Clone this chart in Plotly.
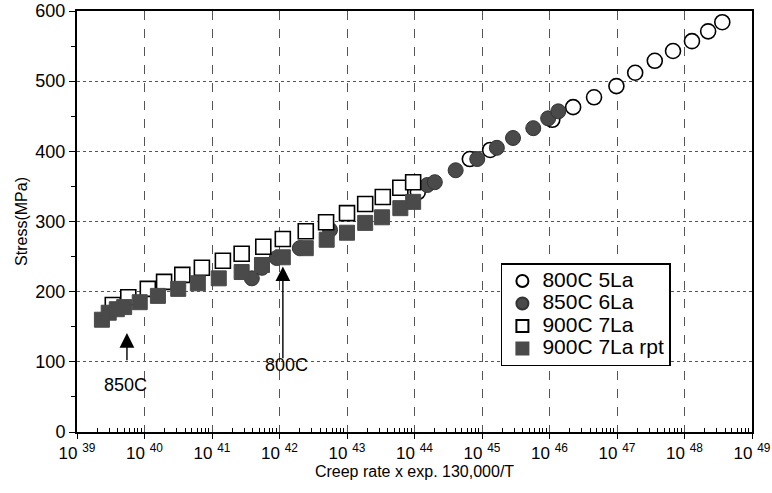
import plotly.graph_objects as go

FONT = "Liberation Sans, Arial, Helvetica, sans-serif"

# ---- data ----
series_names = ["800C 5La", "850C 6La", "900C 7La", "900C 7La rpt"]

rate_800 = [1.12e44, 6.6e44, 1.32e45, 1.10e46, 2.24e46, 4.57e46, 9.8e46, 1.86e47,
            3.63e47, 6.76e47, 1.29e48, 2.24e48, 3.63e48]
stress_800 = [342, 389, 402, 445, 463, 477, 493, 512, 529, 543, 557, 571, 584]

rate_850 = [3.89e41, 5.5e41, 9.1e41, 2.0e42, 5.6e42, 1.55e44, 2.0e44, 4.07e44,
            8.5e44, 1.66e45, 2.88e45, 5.75e45, 9.55e45, 1.35e46]
stress_850 = [219, 234, 248, 262, 288, 352, 356, 373, 389, 405, 419, 433, 447, 457]

rate_900 = [3.39e39, 5.75e39, 1.12e40, 1.95e40, 3.63e40, 7.08e40, 1.45e41, 2.75e41,
            5.75e41, 1.12e42, 2.45e42, 4.9e42, 1.0e43, 1.86e43, 3.39e43, 6.17e43, 9.55e43]
stress_900 = [181, 192, 204, 214, 224, 234, 244, 254, 264, 275, 286, 299, 312, 325,
              335, 348, 356]

rate_900r = [2.34e39, 2.95e39, 3.89e39, 5.0e39, 8.5e39, 1.58e40, 3.16e40, 6.17e40,
             1.26e41, 2.75e41, 5.5e41, 1.12e42, 2.45e42, 5.0e42, 1.0e43, 1.86e43,
             3.31e43, 6.17e43, 9.55e43]
stress_900r = [160, 170, 175, 178, 185, 194, 204, 212, 219, 228, 238, 249, 262, 274,
               284, 298, 306, 319, 328]

x_exponents = list(range(39, 50))
x_tick_labels = ["10 <sup>%d</sup>" % e for e in x_exponents]
y_ticks = [0, 100, 200, 300, 400, 500, 600]

GRAY = "#4a4a4a"
MS = 15


def legend_label(name):
    return '<span style="font-size:21px">%s</span>' % name


fig = go.Figure()
fig.add_trace(go.Scatter(x=rate_800, y=stress_800, mode="markers",
                         name=legend_label(series_names[0]),
                         marker=dict(symbol="circle", size=MS, color="white",
                                     line=dict(color="black", width=1.6))))
fig.add_trace(go.Scatter(x=rate_850, y=stress_850, mode="markers",
                         name=legend_label(series_names[1]),
                         marker=dict(symbol="circle", size=MS, color=GRAY,
                                     line=dict(color="#333333", width=1))))
fig.add_trace(go.Scatter(x=rate_900, y=stress_900, mode="markers",
                         name=legend_label(series_names[2]),
                         marker=dict(symbol="square", size=MS, color="white",
                                     line=dict(color="black", width=1.6))))
fig.add_trace(go.Scatter(x=rate_900r, y=stress_900r, mode="markers",
                         name=legend_label(series_names[3]),
                         marker=dict(symbol="square", size=MS, color=GRAY,
                                     line=dict(color=GRAY, width=1))))

major_x = [10.0 ** e for e in x_exponents]
minor_x = [k * 10.0 ** e for e in range(39, 49) for k in range(2, 10)]

fig.update_xaxes(
    type="log", range=[39, 49], automargin=False,
    tickmode="array", tickvals=major_x, ticktext=x_tick_labels,
    ticks="outside", ticklen=5, tickcolor="black", tickwidth=1,
    showline=True, linecolor="black", linewidth=2, mirror=True,
    showgrid=True, gridcolor="#555555", griddash="dash", gridwidth=1,
    zeroline=False,
    tickfont=dict(family=FONT, size=17, color="black"),
    minor=dict(tickmode="array", tickvals=minor_x, ticks="inside", ticklen=4,
               tickcolor="black", showgrid=False),
    title=dict(text="Creep rate x exp. 130,000/T",
               font=dict(family=FONT, size=16, color="black"), standoff=2),
)
fig.update_yaxes(
    range=[0, 600], tickmode="array", tickvals=y_ticks, automargin=False,
    ticks="outside", ticklen=6, tickcolor="black",
    showline=True, linecolor="black", linewidth=2, mirror=True,
    showgrid=True, gridcolor="#555555", griddash="dot", gridwidth=1,
    zeroline=False,
    tickfont=dict(family=FONT, size=18, color="black"),
    minor=dict(dtick=50, ticks="outside", ticklen=4, tickcolor="black", showgrid=False),
    title=dict(text="Stress(MPa)", font=dict(family=FONT, size=16, color="black"),
               standoff=4),
)

# arrows and labels
fig.add_annotation(x=39.74, y=141, ax=39.74, ay=100, xref="x", yref="y",
                   axref="x", ayref="y", showarrow=True, arrowhead=2,
                   arrowsize=2.1, arrowwidth=1.4, arrowcolor="black", text="")
fig.add_annotation(x=39.72, y=67, xref="x", yref="y", text="850C", showarrow=False,
                   font=dict(family=FONT, size=18, color="black"))
fig.add_annotation(x=42.05, y=236, ax=42.05, ay=103, xref="x", yref="y",
                   axref="x", ayref="y", showarrow=True, arrowhead=2,
                   arrowsize=2.1, arrowwidth=1.4, arrowcolor="black", text="")
fig.add_annotation(x=42.1, y=95, xref="x", yref="y", text="800C", showarrow=False,
                   font=dict(family=FONT, size=18, color="black"))

fig.update_layout(
    width=772, height=493,
    margin=dict(l=77, r=20, t=11, b=61, autoexpand=False),
    paper_bgcolor="white", plot_bgcolor="white",
    showlegend=True,
    legend=dict(x=0.628, y=0.401, xanchor="left", yanchor="top",
                bgcolor="white", bordercolor="black", borderwidth=1.5,
                font=dict(family=FONT, size=15, color="black"),
                tracegroupgap=0, itemsizing="constant"),
    font=dict(family=FONT, color="black"),
)

fig.write_html("out.html", config={"displayModeBar": False},
               post_script="document.body.style.margin='0';document.body.style.padding='0';")
